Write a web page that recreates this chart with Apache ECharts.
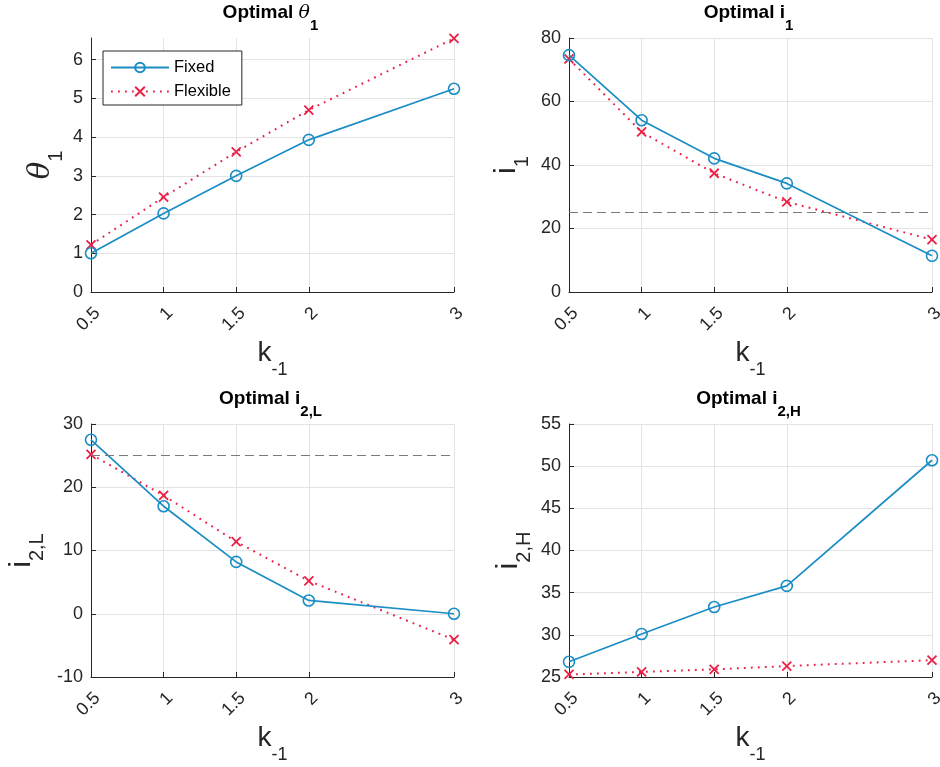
<!DOCTYPE html>
<html><head><meta charset="utf-8">
<script src="https://cdn.jsdelivr.net/npm/echarts@6/dist/echarts.min.js"></script>
<style>html,body{margin:0;padding:0;background:#fff}#c{width:940px;height:767px}</style>
</head><body><div id="c"></div>
<script>
const kValues = [0.5, 1, 1.5, 2, 3];
const xTicks = [0.5, 1, 1.5, 2, 3];
const theta1Fixed = [1.0, 2.03, 3.0, 3.93, 5.25];
const theta1Flexible = [1.22, 2.45, 3.62, 4.70, 6.55];
const i1Fixed = [74.6, 54.1, 42.1, 34.2, 11.4];
const i1Flexible = [73.4, 50.4, 37.4, 28.4, 16.5];
const i2LFixed = [27.5, 17.0, 8.2, 2.1, 0.0];
const i2LFlexible = [25.2, 18.7, 11.4, 5.2, -4.1];
const i2HFixed = [26.8, 30.1, 33.3, 35.8, 50.7];
const i2HFlexible = [25.3, 25.6, 25.9, 26.3, 27.0];
const thresholdLine = 25;
const theta1Ticks = [0, 1, 2, 3, 4, 5, 6];
const i1Ticks = [0, 20, 40, 60, 80];
const i2LTicks = [-10, 0, 10, 20, 30];
const i2HTicks = [25, 30, 35, 40, 45, 50, 55];
const seriesNames = ['Fixed', 'Flexible'];

const BLUE = '#1a8dc4';
const RED = '#ec1f45';
const TXT = '#262626';
const FONT = 'Liberation Sans, Arial, sans-serif';
const XPATH = 'path://M0,0L10,10M10,0L0,10';

const panels = [
  {left: 91, top: 38, height: 254, yMin: 0, yMax: 6.56, yTicks: theta1Ticks, fixed: theta1Fixed, flex: theta1Flexible,
   yName: '{g|θ}{s|1}', title: '{b|Optimal }{bg|θ}{bs|1}', titleY: 13, nameGap: 25, thr: false},
  {left: 569, top: 38, height: 254, yMin: 0, yMax: 80, yTicks: i1Ticks, fixed: i1Fixed, flex: i1Flexible,
   yName: '{m|i}{s|1}', title: '{b|Optimal i}{bs|1}', titleY: 13, nameGap: 37, thr: true},
  {left: 91, top: 424, height: 253, yMin: -10, yMax: 30, yTicks: i2LTicks, fixed: i2LFixed, flex: i2LFlexible,
   yName: '{m|i}{s|2,L}', title: '{b|Optimal i}{bs|2,L}', titleY: 399, nameGap: 44, thr: true},
  {left: 569, top: 424, height: 253, yMin: 25, yMax: 55, yTicks: i2HTicks, fixed: i2HFixed, flex: i2HFlexible,
   yName: '{m|i}{s|2,H}', title: '{b|Optimal i}{bs|2,H}', titleY: 399, nameGap: 35, thr: false}
];
const PW = 363;

const xNameRich = {
  m: {fontSize: 28, fontFamily: FONT, color: TXT},
  s: {fontSize: 18, fontFamily: FONT, color: TXT, padding: [34, 0, 0, 0]}
};
const yNameRich = {
  m: {fontSize: 30, fontFamily: FONT, color: TXT},
  g: {fontSize: 29, fontFamily: 'DejaVu Serif, serif', fontStyle: 'italic', color: TXT},
  s: {fontSize: 20, fontFamily: FONT, color: TXT, padding: [30, 0, 0, 0]}
};
const titleRich = {
  b: {fontSize: 19, fontWeight: 'bold', fontFamily: FONT, color: '#000'},
  bg: {fontSize: 19, fontStyle: 'italic', fontFamily: 'DejaVu Serif, serif', color: '#000'},
  bs: {fontSize: 15, fontWeight: 'bold', fontFamily: FONT, color: '#000', padding: [26, 0, 0, 0]}
};

const grid = [], xAxis = [], yAxis = [], series = [], graphic = [];
panels.forEach((p, i) => {
  grid.push({left: p.left, top: p.top, width: PW, height: p.height, containLabel: false, outerBoundsMode: 'none'});
  xAxis.push({
    type: 'value', gridIndex: i, min: 0.5, max: 3, interval: 0.5,
    name: '{m|k}{s|-1}', nameLocation: 'middle', nameGap: 35,
    nameTextStyle: {rich: xNameRich},
    axisLine: {show: true, onZero: false, lineStyle: {color: TXT, width: 1}},
    axisTick: {show: true, inside: true, length: 5, customValues: xTicks, lineStyle: {color: TXT}},
    axisLabel: {customValues: xTicks, rotate: 45, margin: 12, fontSize: 18, fontFamily: FONT, color: TXT,
      verticalAlign: 'top'},
    splitLine: {show: true, lineStyle: {color: '#e3e3e3', width: 1}}
  });
  yAxis.push({
    type: 'value', gridIndex: i, min: p.yMin, max: p.yMax,
    name: p.yName, nameLocation: 'middle', nameGap: p.nameGap, nameRotate: 90,
    nameTextStyle: {rich: yNameRich},
    axisLine: {show: true, onZero: false, lineStyle: {color: TXT, width: 1}},
    axisTick: {show: true, inside: true, length: 5, customValues: p.yTicks, lineStyle: {color: TXT}},
    axisLabel: {customValues: p.yTicks, margin: 8, fontSize: 18, fontFamily: FONT, color: TXT},
    splitLine: {show: true, lineStyle: {color: '#e3e3e3', width: 1}}
  });
  const fixedSeries = {
    name: seriesNames[0], type: 'line', xAxisIndex: i, yAxisIndex: i,
    data: kValues.map((k, j) => [k, p.fixed[j]]),
    symbol: 'circle', symbolSize: 11, clip: false, z: 3,
    lineStyle: {color: BLUE, width: 1.7},
    itemStyle: {color: 'rgba(255,255,255,0)', borderColor: BLUE, borderWidth: 1.6},
    emphasis: {disabled: true}
  };
  if (p.thr) {
    fixedSeries.markLine = {
      silent: true, symbol: 'none', label: {show: false}, animation: false,
      lineStyle: {color: '#7a7a7a', type: [9, 5], width: 1},
      data: [{yAxis: thresholdLine}]
    };
  }
  series.push({
    name: seriesNames[1], type: 'line', xAxisIndex: i, yAxisIndex: i,
    data: kValues.map((k, j) => [k, p.flex[j]]),
    symbol: XPATH, symbolSize: 9, clip: false, z: 2,
    lineStyle: {color: RED, width: 2, type: [1.8, 5.2]},
    itemStyle: {color: 'rgba(255,255,255,0)', borderColor: RED, borderWidth: 1.8},
    emphasis: {disabled: true}
  });
  series.push(fixedSeries);
  graphic.push({
    type: 'text', x: p.left + PW / 2 - 2, y: p.titleY,
    style: {text: p.title, rich: titleRich, align: 'center', verticalAlign: 'middle'}
  });
});

const chart = echarts.init(document.getElementById('c'), null, {renderer: 'canvas'});
chart.setOption({
  animation: false,
  backgroundColor: '#fff',
  grid, xAxis, yAxis, series, graphic,
  legend: {
    data: seriesNames, orient: 'vertical', left: 103, top: 51,
    backgroundColor: '#fff', borderColor: TXT, borderWidth: 1,
    padding: [8, 11, 5, 7], itemWidth: 58, itemHeight: 12, itemGap: 7,
    selectedMode: false,
    textStyle: {fontSize: 16.5, fontFamily: FONT, color: '#000'}
  }
});
</script></body></html>
